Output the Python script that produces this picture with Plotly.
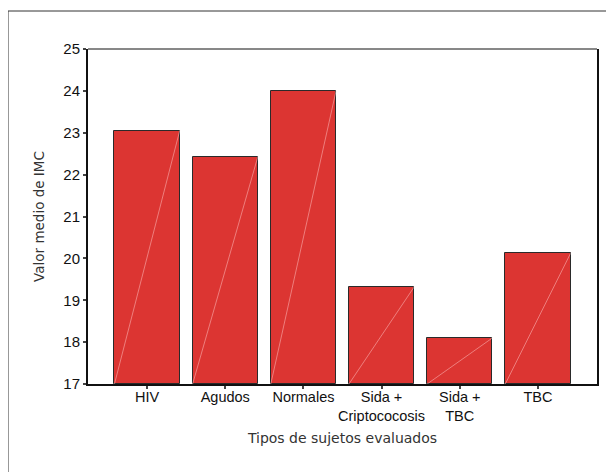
import plotly.graph_objects as go

categories = ["HIV", "Agudos", "Normales", "Sida +<br>Criptococosis", "Sida +<br>TBC", "TBC"]
imc_values = [23.05, 22.43, 24.0, 19.32, 18.1, 20.12]
y_ticks = [17, 18, 19, 20, 21, 22, 23, 24, 25]

BAR_W = 0.835
Y_MIN, Y_MAX = 17, 25
xpos = list(range(len(categories)))

fig = go.Figure()
fig.add_trace(go.Bar(
    x=xpos, y=[v - Y_MIN for v in imc_values], base=Y_MIN, width=BAR_W,
    marker=dict(color="#DC3532", line=dict(color="#2a2a2a", width=1)),
    hoverinfo="skip", showlegend=False,
))
# faint diagonal hatch line inside each bar (bottom-left to top-right)
dx, dy = [], []
for i, v in zip(xpos, imc_values):
    dx += [i - BAR_W / 2, i + BAR_W / 2, None]
    dy += [Y_MIN, v, None]
fig.add_trace(go.Scatter(
    x=dx, y=dy, mode="lines",
    line=dict(color="rgba(255,200,200,0.5)", width=1),
    hoverinfo="skip", showlegend=False,
))

# page body has an 8px margin
W, H = 606, 464
L, R, T, B = 80, 17, 41, 88
pw, ph = W - L - R, H - T - B

fig.update_layout(
    width=W, height=H,
    margin=dict(l=L, r=R, t=T, b=B, autoexpand=False),
    paper_bgcolor="white", plot_bgcolor="white",
    font=dict(family="Liberation Sans, Arial, sans-serif", size=15, color="#111"),
    bargap=0,
    xaxis=dict(
        range=[-0.756, 5.756], tickmode="array", tickvals=xpos, ticktext=categories,
        tickangle=0, automargin=False, ticklabelstandoff=-4,
        showline=True, linecolor="#111", linewidth=2, mirror=False,
        ticks="outside", ticklen=3, tickwidth=2, tickcolor="#444",
        showgrid=False, zeroline=False,
        tickfont=dict(size=14.5, color="#111"),
        title=dict(text="Tipos de sujetos evaluados", standoff=10,
                   font=dict(family="DejaVu Sans, sans-serif", size=14, color="#333")),
    ),
    yaxis=dict(
        range=[Y_MIN, Y_MAX], tickmode="array", tickvals=y_ticks,
        automargin=False,
        showline=True, linecolor="#111", linewidth=2, mirror=True,
        ticks="outside", ticklen=3, tickwidth=2, tickcolor="#444",
        showgrid=False, zeroline=False,
        tickfont=dict(size=15, color="#111"),
        title=dict(text="Valor medio de IMC", standoff=16,
                   font=dict(family="DejaVu Sans, sans-serif", size=13.5, color="#333")),
    ),
    shapes=[
        dict(type="line", xref="paper", yref="paper", x0=0, x1=1, y0=1, y1=1,
             line=dict(color="#111", width=1)),
        dict(type="rect", xref="paper", yref="paper",
             x0=-L / pw, x1=1 + (R + 20) / pw,
             y0=-(B + 20) / ph, y1=1 + (T - 3) / ph,
             line=dict(color="#333", width=1), fillcolor="rgba(0,0,0,0)", layer="below"),
    ],
)

fig.write_html("out.html")
